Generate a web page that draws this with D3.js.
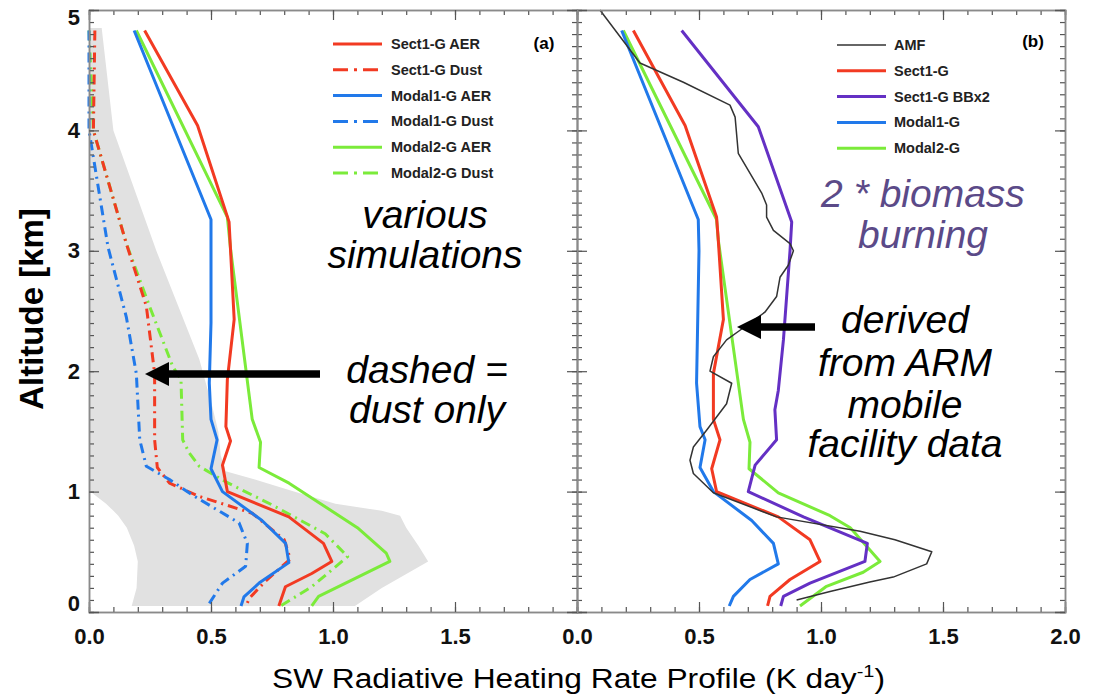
<!DOCTYPE html>
<html>
<head>
<meta charset="utf-8">
<script src="https://cdn.jsdelivr.net/npm/d3@7"></script>
<style>
body { margin: 0; background: #fff; }
text { font-family: "Liberation Sans", Arial, sans-serif; }
</style>
</head>
<body>
<script>
// heating-rate profiles, altitude in km, rate in K/day

// panel (a) - various simulations
var sect1AerAlt = [4.83, 4.04, 3.24, 2.43, 1.93, 1.54, 1.42, 1.22, 1.0, 0.79, 0.57, 0.42, 0.32, 0.21, 0.05];
var sect1AerVal = [0.228, 0.445, 0.574, 0.595, 0.567, 0.561, 0.58, 0.547, 0.567, 0.819, 0.961, 0.995, 0.913, 0.805, 0.778];
var sect1DustAlt = [4.83, 4.0, 3.06, 2.54, 1.98, 1.43, 1.2, 1.07, 0.96, 0.82, 0.6, 0.44, 0.25, 0.12, 0.05];
var sect1DustVal = [0.024, 0.018, 0.153, 0.235, 0.269, 0.269, 0.28, 0.33, 0.452, 0.669, 0.8, 0.825, 0.72, 0.66, 0.642];
var modal1AerAlt = [4.83, 3.26, 2.4, 1.9, 1.6, 1.43, 1.19, 1.0, 0.76, 0.57, 0.41, 0.24, 0.125, 0.05];
var modal1AerVal = [0.185, 0.5, 0.5, 0.493, 0.5, 0.525, 0.5, 0.547, 0.709, 0.806, 0.819, 0.697, 0.635, 0.623];
var modal1DustAlt = [4.83, 4.0, 3.03, 2.45, 1.98, 1.43, 1.21, 1.1, 0.97, 0.74, 0.57, 0.38, 0.24, 0.05];
var modal1DustVal = [0.0, 0.0, 0.078, 0.153, 0.194, 0.208, 0.235, 0.33, 0.425, 0.615, 0.649, 0.642, 0.547, 0.486];
var modal2AerAlt = [4.83, 3.28, 3.0, 1.6, 1.41, 1.2, 1.07, 0.7, 0.49, 0.42, 0.13, 0.05];
var modal2AerVal = [0.194, 0.567, 0.581, 0.669, 0.703, 0.697, 0.82, 1.1, 1.218, 1.233, 0.941, 0.913];
var modal2DustAlt = [4.83, 4.0, 3.06, 2.54, 2.04, 1.93, 1.43, 1.32, 1.21, 1.08, 0.89, 0.65, 0.46, 0.21, 0.05];
var modal2DustVal = [0.0, 0.018, 0.153, 0.248, 0.343, 0.377, 0.384, 0.411, 0.452, 0.561, 0.75, 0.968, 1.06, 0.913, 0.785];

// grey envelope behind panel (a)
var bandAlt  = [0.05, 0.2, 0.42, 0.55, 0.7, 0.8, 0.84, 0.9, 1.0, 1.1, 1.17, 1.3, 1.5, 1.7, 2.1, 3.0, 4.0, 4.85];
var bandLow  = [0.175, 0.195, 0.2, 0.185, 0.155, 0.12, 0.1, 0.07, 0.005, 0, 0, 0, 0, 0, 0, 0, 0, 0];
var bandHigh = [1.09, 1.2, 1.39, 1.35, 1.3, 1.275, 1.2, 1.01, 0.84, 0.68, 0.56, 0.54, 0.53, 0.506, 0.452, 0.276, 0.1, 0.052];

// panel (b) - AMF vs simulations
var amfAlt = [5.0, 4.78, 4.56, 4.4, 4.21, 4.11, 3.81, 3.48, 3.38, 3.28, 3.17, 3.06, 3.0, 2.88, 2.78, 2.62, 2.49, 2.34, 2.26, 2.12, 2.0, 1.9, 1.73, 1.51, 1.37, 1.26, 1.15, 0.99, 0.79, 0.67, 0.6, 0.5, 0.4, 0.29, 0.25, 0.17, 0.1];
var amfVal = [0.094, 0.176, 0.258, 0.436, 0.627, 0.648, 0.661, 0.757, 0.777, 0.777, 0.805, 0.873, 0.887, 0.866, 0.832, 0.818, 0.77, 0.668, 0.613, 0.559, 0.545, 0.634, 0.613, 0.531, 0.477, 0.463, 0.477, 0.559, 0.818, 1.16, 1.303, 1.454, 1.433, 1.296, 1.2, 1.037, 0.9];
var sect1Alt = [4.83, 4.04, 3.28, 3.09, 2.43, 1.98, 1.6, 1.43, 1.19, 1.0, 0.79, 0.6, 0.42, 0.27, 0.13, 0.05];
var sect1Val = [0.231, 0.443, 0.572, 0.579, 0.6, 0.559, 0.559, 0.586, 0.552, 0.572, 0.825, 0.955, 0.996, 0.873, 0.791, 0.781];
var bbx2Alt = [4.83, 4.03, 3.24, 3.0, 2.26, 1.84, 1.68, 1.43, 1.22, 1.0, 0.79, 0.57, 0.42, 0.24, 0.13, 0.05];
var bbx2Val = [0.429, 0.743, 0.88, 0.873, 0.846, 0.825, 0.811, 0.818, 0.73, 0.702, 0.928, 1.19, 1.18, 0.955, 0.846, 0.835];
var modal1Alt = [4.83, 3.26, 3.0, 1.9, 1.54, 1.43, 1.2, 1.0, 0.76, 0.57, 0.4, 0.27, 0.13, 0.05];
var modal1Val = [0.183, 0.497, 0.5, 0.49, 0.504, 0.525, 0.504, 0.559, 0.716, 0.805, 0.825, 0.709, 0.641, 0.624];
var modal2Alt = [4.83, 3.26, 3.09, 1.6, 1.41, 1.19, 0.99, 0.8, 0.7, 0.42, 0.33, 0.21, 0.05];
var modal2Val = [0.19, 0.572, 0.579, 0.682, 0.709, 0.705, 0.825, 1.037, 1.12, 1.242, 1.173, 1.02, 0.914];

// legends
var legendALabels = ["Sect1-G AER", "Sect1-G Dust", "Modal1-G AER", "Modal1-G Dust", "Modal2-G AER", "Modal2-G Dust"];
var legendBLabels = ["AMF", "Sect1-G", "Sect1-G BBx2", "Modal1-G", "Modal2-G"];
var xTicksA = [0, 0.5, 1.0, 1.5];
var xTicksB = [0, 0.5, 1.0, 1.5, 2.0];
var yTicks = [0, 1, 2, 3, 4, 5];

var RED = "#f23a22", BLUE = "#2179ea", GREEN = "#7beb3a", PURPLE = "#6430c4", AMF = "#333";
var DASHDOT = "10,5,2,5";

var w = 1096, h = 694;

var svg = d3.select("body").append("svg")
    .attr("width", w)
    .attr("height", h);

var y = d3.scaleLinear().domain([0, 5]).range([612, 10]);
var xA = d3.scaleLinear().domain([0, 2]).range([89, 577]);
var xB = d3.scaleLinear().domain([0, 2]).range([577, 1065]);

function pts(alt, val) {
    return alt.map(function(a, i) { return [val[i], a]; });
}

// grey envelope
var band = bandAlt.map(function(a, i) { return {a: a, lo: bandLow[i], hi: bandHigh[i]}; });
svg.append("path")
    .datum(band)
    .attr("fill", "#e1e1e1")
    .attr("d", d3.area()
        .y(function(d) { return y(d.a); })
        .x0(function(d) { return xA(d.lo); })
        .x1(function(d) { return xA(d.hi); }));

function drawLine(x, alt, val, color, width, dash) {
    var line = d3.line()
        .x(function(d) { return x(d[0]); })
        .y(function(d) { return y(d[1]); });
    svg.append("path")
        .datum(pts(alt, val))
        .attr("fill", "none")
        .attr("stroke", color)
        .attr("stroke-width", width)
        .attr("stroke-linejoin", "round")
        .attr("stroke-dasharray", dash || null)
        .attr("d", line);
}

// panel a lines
drawLine(xA, modal2DustAlt, modal2DustVal, GREEN, 3, DASHDOT);
drawLine(xA, sect1DustAlt, sect1DustVal, RED, 3, DASHDOT);
drawLine(xA, modal1DustAlt, modal1DustVal, BLUE, 3, DASHDOT);
drawLine(xA, modal2AerAlt, modal2AerVal, GREEN, 3);
drawLine(xA, modal1AerAlt, modal1AerVal, BLUE, 3);
drawLine(xA, sect1AerAlt, sect1AerVal, RED, 3);

// panel b lines
drawLine(xB, modal2Alt, modal2Val, GREEN, 3);
drawLine(xB, modal1Alt, modal1Val, BLUE, 3);
drawLine(xB, sect1Alt, sect1Val, RED, 3);
drawLine(xB, bbx2Alt, bbx2Val, PURPLE, 3);
drawLine(xB, amfAlt, amfVal, AMF, 1.5);

// axes, ticks point inward
var minorX = d3.range(0, 2.001, 0.1);
var minorY = d3.range(0, 5.001, 0.1);

function styleAxis(g) {
    g.select(".domain").attr("stroke", "#8a8a8a").attr("stroke-width", 1.5);
    g.selectAll(".tick line").attr("stroke", "#555").attr("stroke-width", 1.2);
    g.selectAll("text").attr("font-family", "Liberation Sans, Arial, sans-serif")
        .attr("font-weight", "bold").attr("font-size", "22px").attr("fill", "#111");
}

[xA, xB].forEach(function(x, k) {
    var labels = k === 0 ? xTicksA : xTicksB;
    svg.append("g").attr("transform", "translate(0,612)")
        .call(d3.axisBottom(x).tickValues(minorX).tickSize(-5).tickFormat(""))
        .call(styleAxis);
    svg.append("g").attr("transform", "translate(0,612)")
        .call(d3.axisBottom(x).tickValues(labels).tickSize(-10).tickPadding(16).tickFormat(d3.format(".1f")))
        .call(styleAxis);
    svg.append("g").attr("transform", "translate(0,10)")
        .call(d3.axisTop(x).tickValues(minorX).tickSize(-5).tickFormat(""))
        .call(styleAxis);
    svg.append("g").attr("transform", "translate(0,10)")
        .call(d3.axisTop(x).tickValues(xTicksB).tickSize(-10).tickFormat(""))
        .call(styleAxis);
});

[89, 577, 1065].forEach(function(px, k) {
    if (k < 2) {
        svg.append("g").attr("transform", "translate(" + px + ",0)")
            .call(d3.axisLeft(y).tickValues(minorY).tickSize(-5).tickFormat(""))
            .call(styleAxis);
        svg.append("g").attr("transform", "translate(" + px + ",0)")
            .call(d3.axisLeft(y).tickValues(yTicks).tickSize(-10).tickPadding(9)
                .tickFormat(k === 0 ? d3.format("d") : ""))
            .call(styleAxis);
    }
    if (k > 0) {
        svg.append("g").attr("transform", "translate(" + px + ",0)")
            .call(d3.axisRight(y).tickValues(minorY).tickSize(-5).tickFormat(""))
            .call(styleAxis);
        svg.append("g").attr("transform", "translate(" + px + ",0)")
            .call(d3.axisRight(y).tickValues(yTicks).tickSize(-10).tickFormat(""))
            .call(styleAxis);
    }
});

// end labels of the altitude axis sit inside the frame
svg.selectAll(".tick text").filter(function(d) { return d === 0 && this.getAttribute("x") < 0; })
    .attr("transform", "translate(0,-9)");
svg.selectAll(".tick text").filter(function(d) { return d === 5 && this.getAttribute("x") < 0; })
    .attr("transform", "translate(0,7)");

// axis titles
svg.append("text")
    .attr("transform", "translate(43,309) rotate(-90)")
    .attr("text-anchor", "middle")
    .attr("font-weight", "bold")
    .attr("font-size", "33px")
    .text("Altitude [km]");

var xt = svg.append("text")
    .attr("x", 272).attr("y", 688)
    .attr("font-size", "27px")
    .attr("textLength", 613)
    .attr("lengthAdjust", "spacingAndGlyphs");
xt.append("tspan").text("SW Radiative Heating Rate Profile (K day");
xt.append("tspan").attr("font-size", "17px").attr("dy", -11).text("-1");
xt.append("tspan").attr("dy", 11).text(")");

// legends
function legend(labels, colors, dashes, x0, y0, textX) {
    labels.forEach(function(lab, i) {
        var yy = y0 + i * 25.8;
        svg.append("line")
            .attr("x1", x0).attr("x2", x0 + 49)
            .attr("y1", yy).attr("y2", yy)
            .attr("stroke", colors[i])
            .attr("stroke-width", colors[i] === AMF ? 1.5 : 3)
            .attr("stroke-dasharray", dashes[i] ? "15,6,3,6" : null);
        svg.append("text")
            .attr("x", textX).attr("y", yy + 5)
            .attr("font-size", "14.5px")
            .attr("font-weight", "bold")
            .attr("fill", "#222")
            .text(lab);
    });
}
legend(legendALabels, [RED, RED, BLUE, BLUE, GREEN, GREEN], [0, 1, 0, 1, 0, 1], 333, 44, 391);
legend(legendBLabels, [AMF, RED, PURPLE, BLUE, GREEN], [0, 0, 0, 0, 0], 837, 45, 894);

svg.append("text").attr("x", 544).attr("y", 49).attr("text-anchor", "middle")
    .attr("font-weight", "bold").attr("font-size", "17px").text("(a)");
svg.append("text").attr("x", 1033).attr("y", 47).attr("text-anchor", "middle")
    .attr("font-weight", "bold").attr("font-size", "17px").text("(b)");

// annotations
function note(lines, cx, baselines, color) {
    lines.forEach(function(t, i) {
        svg.append("text")
            .attr("x", cx).attr("y", baselines[i])
            .attr("text-anchor", "middle")
            .attr("font-style", "italic")
            .attr("font-size", "39px")
            .attr("fill", color)
            .text(t);
    });
}
note(["various", "simulations"], 425, [228, 268], "#000");
note(["dashed =", "dust only"], 427, [383, 423], "#000");
note(["2 * biomass", "burning"], 923, [207, 248], "#5b4a88");
note(["derived", "from ARM", "mobile", "facility data"], 905, [333, 376, 418, 457], "#000");

// arrows
function arrow(tipX, yy, endX) {
    svg.append("line")
        .attr("x1", tipX + 20).attr("x2", endX)
        .attr("y1", yy).attr("y2", yy)
        .attr("stroke", "#000").attr("stroke-width", 7.5);
    svg.append("path")
        .attr("d", "M" + tipX + "," + yy + "L" + (tipX + 24) + "," + (yy - 12) + "L" + (tipX + 24) + "," + (yy + 12) + "Z")
        .attr("fill", "#000");
}
arrow(145, 374, 320);
arrow(737, 327, 815);
</script>
</body>
</html>
